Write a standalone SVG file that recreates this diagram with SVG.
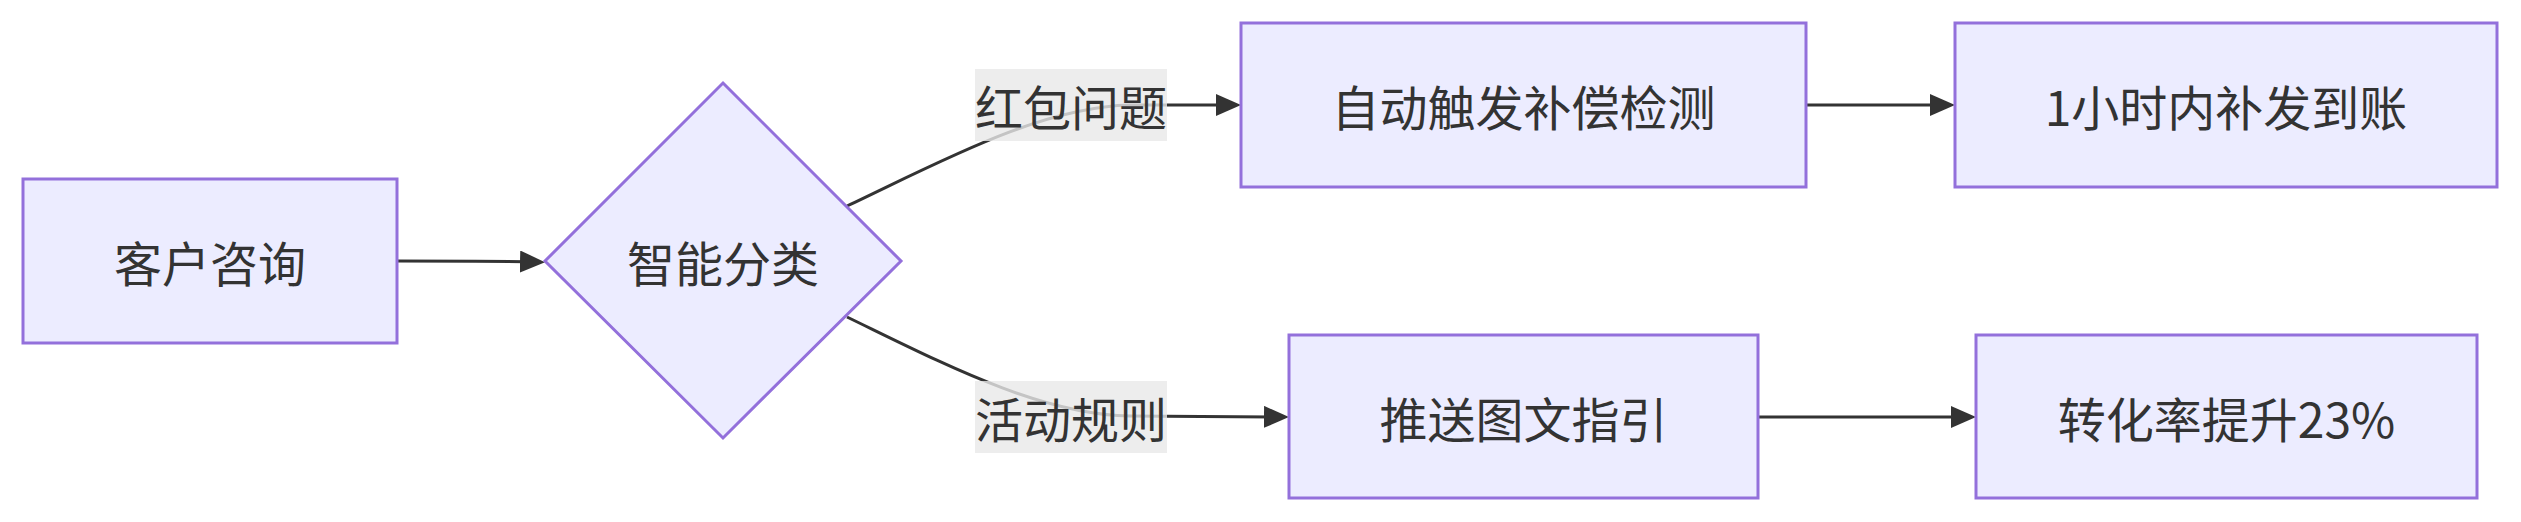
<svg xmlns="http://www.w3.org/2000/svg" width="2521" height="522" viewBox="0 0 2521 522">
<style>
.node rect,.node polygon{fill:#ECECFF;stroke:#9370DB;stroke-width:3}
text{font-family:"Noto Sans CJK SC","Noto Sans",sans-serif;font-size:48px;fill:#333333;text-anchor:middle;dominant-baseline:central}
.edge{fill:none;stroke:#333333;stroke-width:3}
.lbl rect{fill:#e8e8e8;fill-opacity:0.8}
</style>
<defs>
<marker id="arr" markerUnits="userSpaceOnUse" markerWidth="26" markerHeight="24" refX="19" refY="11" orient="auto">
<path d="M0,0 L25,11 L0,22 z" fill="#333333"/>
</marker>
</defs>
<g id="edges">
<path class="edge" d="M397,261 C470,261 500,261 539,262" marker-end="url(#arr)"/>
<path class="edge" d="M847,206 C940,162 1040,107 1130,105 L1235,105" marker-end="url(#arr)"/>
<path class="edge" d="M847,317 C940,362 1040,415 1130,416 L1283,417" marker-end="url(#arr)"/>
<path class="edge" d="M1806,105 L1949,105" marker-end="url(#arr)"/>
<path class="edge" d="M1758,417 L1970,417" marker-end="url(#arr)"/>
</g>
<g id="edge-labels">
<g id="label-hongbao" class="lbl"><rect x="975" y="69" width="192" height="72"/><text x="1071" y="105">红包问题</text></g>
<g id="label-huodong" class="lbl"><rect x="975" y="381" width="192" height="72"/><text x="1071" y="417">活动规则</text></g>
</g>
<g id="A" class="node"><rect x="23" y="179" width="374" height="164"/><text x="210" y="261">客户咨询</text></g>
<g id="B" class="node"><polygon points="723,83 901,261 723,438 545,261"/><text x="723" y="261">智能分类</text></g>
<g id="C" class="node"><rect x="1241" y="23" width="565" height="164"/><text x="1523.5" y="105">自动触发补偿检测</text></g>
<g id="D" class="node"><rect x="1289" y="335" width="469" height="163"/><text x="1523.5" y="417">推送图文指引</text></g>
<g id="E" class="node"><rect x="1955" y="23" width="542" height="164"/><text x="2226" y="105">1小时内补发到账</text></g>
<g id="F" class="node"><rect x="1976" y="335" width="501" height="163"/><text x="2226.5" y="417">转化率提升23%</text></g>
</svg>
